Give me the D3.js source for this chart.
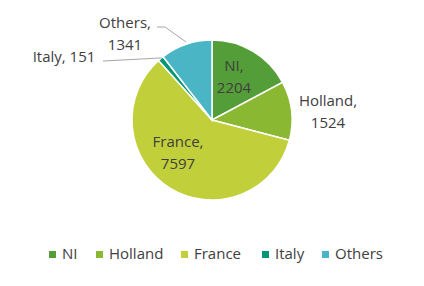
<!DOCTYPE html>
<html>
<head>
<meta charset="utf-8">
<script src="https://cdnjs.cloudflare.com/ajax/libs/d3/7.8.5/d3.min.js"></script>
<style>
  body { margin: 0; background: #fff; }
  text { font-family: "Open Sans", "Liberation Sans", sans-serif; fill: #404040; }
</style>
</head>
<body>
<svg id="pie" width="424" height="286"></svg>
<script>
var categories = ["NI", "Holland", "France", "Italy", "Others"];
var values = [2204, 1524, 7597, 151, 1341];
var colors = ["#549E39", "#8AB833", "#C0CF3A", "#029676", "#4AB5C4"];

var svg = d3.select("#pie"),
  cx = 212,
  cy = 120,
  radius = 80;

var color = d3.scaleOrdinal().domain(categories).range(colors);

var pie = d3.pie().sort(null).value(function(d) { return d.value; });
var arc = d3.arc().innerRadius(0).outerRadius(radius);

var data = categories.map(function(c, i) { return { key: c, value: values[i] }; });
var arcs = pie(data);

var g = svg.append("g").attr("transform", "translate(" + cx + "," + cy + ")");

g.selectAll("path")
  .data(arcs)
  .enter().append("path")
  .attr("d", arc)
  .attr("fill", function(d) { return color(d.data.key); })
  .attr("stroke", "#fff")
  .attr("stroke-width", 1.5);

// label centres relative to the pie centre (Excel placed them by hand)
var labelPos = {
  "NI": [22, -43],
  "Holland": [116, -8],
  "France": [-34, 33],
  "Italy": [-148, -63],
  "Others": [-87, -86]
};

// leader lines
var leaders = {
  "Italy": [[-109, -59], [-52, -62], [-50, -62]],
  "Others": [[-55, -93], [-47, -93], [-26, -78]]
};
Object.keys(leaders).forEach(function(k) {
  g.append("path")
    .attr("d", d3.line()(leaders[k]))
    .attr("fill", "none")
    .attr("stroke", "#a6a6a6")
    .attr("stroke-width", 1);
});

arcs.forEach(function(d) {
  var p = labelPos[d.data.key];
  var t = g.append("text")
    .attr("text-anchor", "middle")
    .attr("font-size", 15);
  if (d.data.key == "Italy") {
    t.attr("x", p[0]).attr("y", p[1]).attr("dy", "0.35em").text(d.data.key + ", " + d.data.value);
  } else {
    t.append("tspan").attr("x", p[0]).attr("y", p[1] - 11).attr("dy", "0.35em").text(d.data.key + ",");
    t.append("tspan").attr("x", p[0]).attr("y", p[1] + 11).attr("dy", "0.35em").text(d.data.value);
  }
});

// legend
var legendX = [49, 96, 181, 262, 322];
var legend = svg.append("g")
  .selectAll("g")
  .data(categories)
  .enter().append("g")
  .attr("transform", function(d, i) { return "translate(" + legendX[i] + ",254)"; });

legend.append("rect")
  .attr("x", 0)
  .attr("y", -3)
  .attr("width", 7)
  .attr("height", 7)
  .attr("fill", color);

legend.append("text")
  .attr("x", 13)
  .attr("y", 0)
  .attr("dy", "0.35em")
  .attr("font-size", 15)
  .text(function(d) { return d; });
</script>
</body>
</html>
